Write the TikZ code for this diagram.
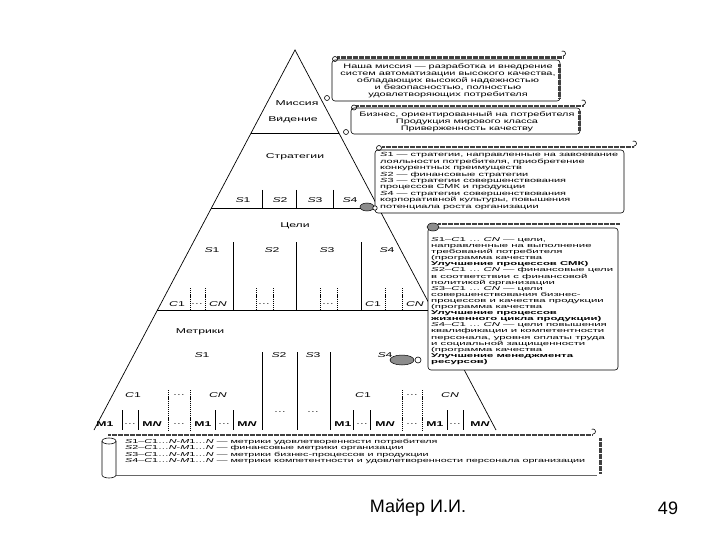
\documentclass[tikz,border=0pt]{standalone}
\usepackage{fontspec}
\setmainfont{Liberation Sans}
\usepackage{graphicx}
\usetikzlibrary{calc}
\newcommand\hs[1]{\scalebox{1.75}[1]{#1}}
\newcommand\blk[4]{\resizebox*{#1}{#2}{\fontsize{6}{6.5}\selectfont\begin{tabular}{@{}#3@{}}#4\end{tabular}}}
\begin{document}
\begin{tikzpicture}[x=1pt,y=-1pt,
  lbl/.style={inner sep=0pt, font=\fontsize{7}{8}\selectfont},
  pyr/.style={line width=0.7pt},
  sep/.style={line width=0.7pt},
  dsep/.style={line width=0.6pt, dash pattern=on 1.2pt off 0.9pt},
  body/.style={line width=0.6pt, fill=white, rounded corners=3pt},
  roll/.style={line width=2.6pt, black!75, dash pattern=on 0.45pt off 0.75pt},
  rollr/.style={line width=3pt, black!75, dash pattern=on 0.45pt off 0.75pt},
  oval/.style={line width=0.5pt, fill=black!45},
  curl/.style={line width=0.6pt},
  txt/.style={inner sep=0pt},
]
\path[use as bounding box] (0,0) rectangle (720,540);

% pyramid
\coordinate (A) at (295,50);
\coordinate (BL) at (94,430);
\coordinate (BR) at (496,430);
\draw[pyr] (BL) -- (A) -- (BR);
\draw[sep] ($(A)!0.21842!(BL)$) -- ($(A)!0.21842!(BR)$);
\draw[sep] ($(A)!0.41579!(BL)$) -- ($(A)!0.41579!(BR)$);
\draw[sep] ($(A)!0.68421!(BL)$) -- ($(A)!0.68421!(BR)$);

% mission / vision / strategies
\node[lbl] (mis) at (297,103) {\hs{Миссия}};
\node[lbl] (vis) at (293,120) {\hs{В\'идение}};
\node[lbl] (str) at (295,157) {\hs{Стратегии}};
\foreach \x in {262,296,333} \draw[sep] (\x,190) -- (\x,208);
\node[lbl] (ss1) at (243,200) {\hs{\textit{S}1}};
\node[lbl] (ss2) at (280,200) {\hs{\textit{S}2}};
\node[lbl] (ss3) at (315,200) {\hs{\textit{S}3}};
\node[lbl] (ss4) at (350,200) {\hs{\textit{S}4}};

% goals
\node[lbl] (gol) at (295,226) {\hs{Цели}};
\foreach \x in {233,296,361} \draw[sep] (\x,242) -- (\x,310);
\foreach \x in {190,205,256,273,320,337,385,402} \draw[dsep] (\x,288) -- (\x,310);
\node[lbl] (gs1) at (212,250) {\hs{\textit{S}1}};
\node[lbl] (gs2) at (272,250) {\hs{\textit{S}2}};
\node[lbl] (gs3) at (327,250) {\hs{\textit{S}3}};
\node[lbl] (gs4) at (387,250) {\hs{\textit{S}4}};
\node[lbl] (gc1) at (177,304) {\hs{\textit{C}1}};
\node[lbl] (gd1) at (197,304) {\hs{…}};
\node[lbl] (gcn) at (218,304) {\hs{\textit{CN}}};
\node[lbl] (gd2) at (264,304) {\hs{…}};
\node[lbl] (gd3) at (328,304) {\hs{…}};
\node[lbl] (gc4) at (373,304) {\hs{\textit{C}1}};
\node[lbl] (gn4) at (415,304) {\hs{\textit{CN}}};

% metrics
\node[lbl] (met) at (200,332) {\hs{Метрики}};
\foreach \x in {262,297,330} \draw[sep] (\x,352) -- (\x,430);
\node[lbl] (ms1) at (202,355) {\hs{\textit{S}1}};
\node[lbl] (ms2) at (279,355) {\hs{\textit{S}2}};
\node[lbl] (ms3) at (313,355) {\hs{\textit{S}3}};
\node[lbl] (ms4) at (385,355) {\hs{\textit{S}4}};
\foreach \x in {168,190,402,422} \draw[dsep] (\x,390) -- (\x,430);
\node[lbl] (mc1) at (133,395) {\hs{\textit{C}1}};
\node[lbl] (md1) at (179,395) {\hs{…}};
\node[lbl] (mcn) at (218,395) {\hs{\textit{CN}}};
\node[lbl] (mc4) at (363,395) {\hs{\textit{C}1}};
\node[lbl] (md4) at (412,395) {\hs{…}};
\node[lbl] (mn4) at (450,395) {\hs{\textit{CN}}};
\node[lbl] (md2) at (280,412) {\hs{…}};
\node[lbl] (md3) at (313,412) {\hs{…}};
\foreach \x in {122,138,215,233,353,370,447,463} \draw[sep] (\x,410) -- (\x,430);
\foreach \x/\t [count=\i] in {105/\textbf{M1},130/…,152/\textbf{M\textit{N}},179/…,203/\textbf{M1},224/…,247/\textbf{M\textit{N}},343/\textbf{M1},362/…,385/\textbf{M\textit{N}},412/…,435/\textbf{M1},455/…,480/\textbf{M\textit{N}}}
  \node[lbl] (mm\i) at (\x,424) {\hs{\t}};

% mission callout
\draw[body] (332,60) rectangle (560,101);
\draw[roll] (337,57.5) -- (563,57.5);
\draw[curl] (335,59) circle[radius=2.5];
\draw[curl] (563,56) arc[start angle=90, end angle=-120, radius=2.5];
\draw[rollr] (559,64) -- (559,98);
\draw[curl, fill=white] (327,98) circle[radius=2.5];
\node[txt, anchor=north] (mtx) at (448,63) {\blk{215pt}{35pt}{c}{Наша миссия — разработка и внедрение\\ систем автоматизации высокого качества,\\ обладающих высокой надежностью\\ и безопасностью, полностью\\ удовлетворяющих потребителя}};

% vision callout
\draw[body] (351,108) rectangle (580,134);
\draw[roll] (356,106) -- (583,106);
\draw[curl] (354,107.5) circle[radius=2.5];
\draw[curl] (583,105) arc[start angle=90, end angle=-120, radius=2.5];
\draw[rollr] (579,111) -- (579,131);
\draw[curl, fill=white] (346,132) circle[radius=2.5];
\node[txt, anchor=north] (vtx) at (467,111) {\blk{215pt}{21pt}{c}{Бизнес, ориентированный на потребителя\\ Продукция мирового класса\\ Приверженность качеству}};

% strategies callout
\draw[body] (375,150) rectangle (624,213);
\draw[roll] (382,147) -- (634,147);
\draw[curl] (379,148) circle[radius=2.5];
\draw[curl] (634,146) arc[start angle=90, end angle=-120, radius=2.5];
\draw[oval] (367,207) ellipse[x radius=7, y radius=4];
\draw[curl, fill=white] (375,208) circle[radius=2.2];
\node[txt, anchor=north west] (stx) at (380,152) {\blk{238pt}{58pt}{l}{\textit{S}1 — стратегии, направленные на завоевание\\ лояльности потребителя, приобретение\\ конкурентных преимуществ\\ \textit{S}2 — финансовые стратегии\\ \textit{S}3 — стратегии совершенствования\\ процессов СМК и продукции\\ \textit{S}4 — стратегии совершенствования\\ корпоративной культуры, повышения\\ потенциала роста организации}};

% goals callout
\draw[body] (428,228) rectangle (618,370);
\draw[roll] (438,224) -- (620,224);
\draw[oval] (433,227) ellipse[x radius=6, y radius=4];
\draw[oval] (402,360) ellipse[x radius=12, y radius=5];
\draw[curl, fill=white] (418,360) circle[radius=3];
\node[txt, anchor=north west] (gtx) at (431,237) {\blk{182pt}{128pt}{l}{\textit{S}1–\textit{C}1 … \textit{CN} — цели,\\ направленные на выполнение\\ требований потребителя\\ (программа качества\\ \textbf{Улучшение процессов СМК)}\\ \textit{S}2–\textit{C}1 … \textit{CN} — финансовые цели\\ в соответствии с финансовой\\ политикой организации\\ \textit{S}3–\textit{C}1 … \textit{CN} — цели\\ совершенствования бизнес-\\ процессов и качества продукции\\ (программа качества\\ \textbf{Улучшение процессов}\\ \textbf{жизненного цикла продукции)}\\ \textit{S}4–\textit{C}1 … \textit{CN} — цели повышения\\ квалификации и компетентности\\ персонала, уровня оплаты труда\\ и социальной защищенности\\ (программа качества\\ \textbf{Улучшение менеджмента}\\ \textbf{ресурсов)}}};

% metrics legend scroll
\draw[roll] (108,435) -- (592,435);
\draw[curl] (593,434) arc[start angle=90, end angle=-120, radius=2.5];
\draw[line width=0.5pt, black!60] (116,475) -- (597,475);
\draw[curl] (102,441) -- (102,475) arc[start angle=180, end angle=0, x radius=7, y radius=3] -- (116,441);
\draw[curl] (109,441) ellipse[x radius=7, y radius=3];
\draw[rollr] (600,438) -- (600,473);
\node[txt, anchor=north west] (ltx) at (125,439) {\blk{460pt}{25pt}{l}{\textit{S}1–\textit{C}1…\textit{N}-\textit{M}1…\textit{N} — метрики удовлетворенности потребителя\\ \textit{S}2–\textit{C}1…\textit{N}-\textit{M}1…\textit{N} — финансовые метрики организации\\ \textit{S}3–\textit{C}1…\textit{N}-\textit{M}1…\textit{N} — метрики бизнес-процессов и продукции\\ \textit{S}4–\textit{C}1…\textit{N}-\textit{M}1…\textit{N} — метрики компетентности и удовлетворенности персонала организации}};

% footer
\node[inner sep=0pt, font=\fontsize{18}{20}\selectfont] (auth) at (418,508) {Майер И.И.};
\node[inner sep=0pt, font=\fontsize{18}{20}\selectfont] (pg) at (668,508) {49};
\end{tikzpicture}
\end{document}
